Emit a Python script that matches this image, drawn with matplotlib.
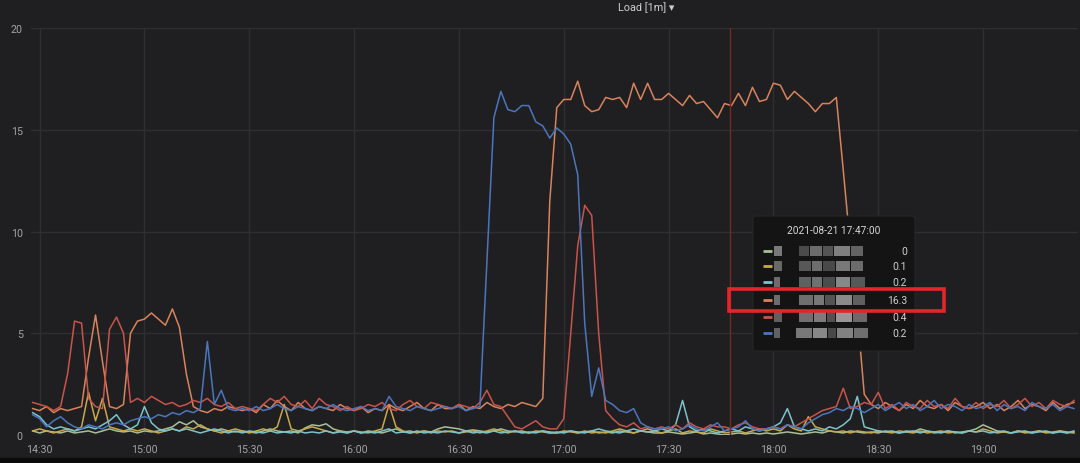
import matplotlib
matplotlib.use("Agg")
import matplotlib.pyplot as plt
import matplotlib.dates as mdates
import matplotlib.patches as mpatches
import pandas as pd

plt.rcParams['font.family'] = ['Roboto', 'DejaVu Sans']

# ---------------- data (2-minute samples, 14:28 .. 19:26) ----------------
start_time = "2021-08-21 14:28"
n_points = 150

green = [0.2, 0.1, 0.2, 0.15, 0.1, 0.2, 0.1, 0.15, 0.2, 0.1, 0.2, 0.3, 0.2, 0.15, 0.2,
         0.1, 0.2, 0.15, 0.2, 0.3, 0.4, 0.65, 0.5, 0.7, 0.4, 0.3, 0.2, 0.3, 0.2, 0.15,
         0.2, 0.15, 0.1, 0.2, 0.3, 0.2, 0.15, 0.2, 0.1, 0.35, 0.5, 0.45, 0.55, 0.3, 0.2,
         0.15, 0.2, 0.1, 0.2, 0.15, 0.1, 0.2, 0.3, 0.15, 0.2, 0.1, 0.2, 0.15, 0.3, 0.4,
         0.35, 0.3, 0.2, 0.25, 0.2, 0.15, 0.2, 0.3, 0.2, 0.15, 0.2, 0.1, 0.15, 0.2, 0.15,
         0.1, 0.15, 0.2, 0.1, 0.15, 0.2, 0.1, 0.15, 0.1, 0.2, 0.15, 0.1, 0.2, 0.15, 0.1,
         0.1, 0.15, 0.1, 0.05, 0.1, 0.15, 0.05, 0.1, 0.05, 0.0, 0.05, 0.1, 0.05, 0.1, 0.05,
         0.1, 0.05, 0.1, 0.15, 0.1, 0.05, 0.1, 0.15, 0.1, 0.2, 0.15, 0.1, 0.2, 0.15, 0.1,
         0.15, 0.1, 0.2, 0.15, 0.1, 0.2, 0.15, 0.3, 0.2, 0.1, 0.15, 0.2, 0.1, 0.15, 0.2,
         0.3, 0.5, 0.35, 0.2, 0.15, 0.1, 0.2, 0.15, 0.1, 0.2, 0.15, 0.1, 0.2, 0.15, 0.1]

yellow = [0.2, 0.3, 0.2, 0.1, 0.2, 0.3, 0.2, 0.4, 2.1, 0.7, 1.8, 0.4, 0.3, 0.2, 0.3,
          0.2, 0.3, 0.2, 0.1, 0.2, 0.3, 0.2, 0.4, 0.3, 0.5, 0.3, 0.2, 0.1, 0.2, 0.3,
          0.2, 0.1, 0.2, 0.3, 0.2, 0.4, 1.5, 0.3, 0.2, 0.3, 0.4, 0.3, 0.2, 0.1, 0.2,
          0.1, 0.2, 0.15, 0.1, 0.2, 0.3, 1.5, 0.4, 0.2, 0.1, 0.15, 0.2, 0.1, 0.2, 0.15,
          0.2, 0.1, 0.15, 0.2, 0.1, 0.2, 0.3, 0.2, 0.1, 0.2, 0.15, 0.1, 0.2, 0.15, 0.1,
          0.1, 0.2, 0.15, 0.1, 0.2, 0.1, 0.15, 0.1, 0.2, 0.3, 0.2, 0.1, 0.2, 0.3, 0.2,
          0.1, 0.2, 0.3, 0.1, 0.2, 0.15, 0.1, 0.3, 0.2, 0.1, 0.15, 0.2, 0.1, 0.2, 0.3,
          0.2, 0.3, 0.2, 0.5, 0.3, 0.2, 0.9, 0.4, 0.3, 0.2, 0.15, 0.2, 0.1, 0.2, 0.15,
          0.1, 0.2, 0.15, 0.1, 0.2, 0.15, 0.1, 0.2, 0.1, 0.15, 0.2, 0.1, 0.15, 0.1, 0.2,
          0.15, 0.3, 0.2, 0.1, 0.15, 0.1, 0.2, 0.1, 0.15, 0.2, 0.1, 0.15, 0.2, 0.1, 0.15]

cyan = [1.1, 0.9, 0.5, 0.3, 0.4, 0.3, 0.2, 0.3, 0.4, 0.3, 0.5, 0.7, 1.0, 0.5, 0.3,
        0.5, 1.4, 0.6, 0.3, 0.2, 0.3, 0.2, 0.3, 0.2, 0.1, 0.2, 0.3, 0.2, 0.1, 0.2,
        0.1, 0.2, 0.15, 0.1, 0.2, 0.1, 0.15, 0.1, 0.2, 0.1, 0.15, 0.1, 0.2, 0.1, 0.15,
        0.1, 0.2, 0.1, 0.15, 0.1, 0.2, 0.3, 0.1, 0.15, 0.1, 0.2, 0.1, 0.15, 0.1, 0.2,
        0.15, 0.1, 0.2, 0.1, 0.15, 0.1, 0.2, 0.1, 0.15, 0.2, 0.1, 0.15, 0.1, 0.2, 0.1,
        0.15, 0.1, 0.2, 0.15, 0.1, 0.2, 0.3, 0.2, 0.15, 0.1, 0.2, 0.3, 0.2, 0.15, 0.2,
        0.3, 0.2, 0.5, 1.7, 0.4, 0.2, 0.3, 0.2, 0.1, 0.2, 0.3, 0.2, 0.4, 0.3, 0.2,
        0.3, 0.4, 0.6, 1.3, 0.4, 0.3, 0.2, 0.3, 0.2, 0.4, 0.3, 0.5, 0.8, 1.9, 0.4,
        0.3, 0.2, 0.15, 0.2, 0.1, 0.15, 0.2, 0.1, 0.2, 0.15, 0.1, 0.2, 0.15, 0.1, 0.2,
        0.15, 0.2, 0.1, 0.15, 0.2, 0.1, 0.15, 0.2, 0.1, 0.15, 0.2, 0.1, 0.15, 0.1, 0.2]

orange = [1.3, 1.2, 1.4, 1.1, 1.3, 1.2, 1.3, 1.4, 3.8, 5.9, 3.6, 1.4, 1.3, 1.5, 5.0,
          5.6, 5.7, 6.0, 5.7, 5.4, 6.2, 5.3, 3.0, 1.4, 1.2, 1.1, 1.3, 1.2, 1.4, 1.3,
          1.2, 1.3, 1.1, 1.5, 1.3, 1.7, 1.4, 1.2, 1.6, 1.3, 1.2, 1.4, 1.3, 1.2, 1.5,
          1.3, 1.2, 1.4, 1.1, 1.3, 1.2, 1.5, 1.3, 1.2, 1.4, 1.6, 1.3, 1.2, 1.5, 1.3,
          1.3, 1.5, 1.2, 1.4, 1.3, 1.6, 1.4, 1.3, 1.5, 1.4, 1.6, 1.5, 1.4, 1.8, 11.5,
          16.1, 16.5, 16.5, 17.4, 16.2, 15.9, 16.0, 16.6, 16.5, 16.6, 16.1, 17.3, 16.5, 17.3, 16.5,
          16.5, 16.8, 16.5, 16.2, 16.7, 16.3, 16.4, 16.0, 15.6, 16.3, 16.2, 16.8, 16.2, 17.1, 16.4,
          16.5, 17.3, 17.2, 16.5, 16.9, 16.6, 16.3, 15.9, 16.3, 16.3, 16.6, 13.0, 9.3, 6.0, 2.0,
          1.5, 1.3, 1.6, 1.4, 1.2, 1.5, 1.3, 1.7, 1.4, 1.3, 1.5, 1.2, 1.6, 1.4, 1.3,
          1.4, 1.6, 1.3, 1.5, 1.2, 1.4, 1.7, 1.3, 1.5, 1.4, 1.2, 1.6, 1.3, 1.5, 1.6]

red = [1.6, 1.5, 1.4, 1.2, 1.4, 3.0, 5.6, 5.5, 1.8, 1.4, 1.3, 5.2, 5.8, 5.0, 1.6,
       1.8, 1.6, 1.9, 1.7, 1.5, 1.6, 1.4, 1.5, 1.7, 1.6, 1.8, 1.5, 1.4, 1.6, 1.3,
       1.4, 1.3, 1.2, 1.5, 1.8, 1.6, 1.9, 1.5, 1.4, 1.7, 1.3, 1.8, 1.5, 1.4, 1.2,
       1.4, 1.2, 1.3, 1.5, 1.4, 1.6, 1.3, 1.2, 1.5, 1.7, 1.4, 1.3, 1.6, 1.5, 1.4,
       1.3, 1.5, 1.4, 1.3, 1.6, 2.2, 1.5, 1.4, 0.9, 0.4, 0.3, 0.5, 0.7, 0.4, 0.3,
       0.3, 0.8, 5.0, 9.3, 11.3, 10.8, 5.0, 1.2, 0.8, 0.5, 0.4, 0.6, 0.3, 0.4, 0.3,
       0.4, 0.3, 0.5, 0.3, 0.6, 0.4, 0.3, 0.5, 0.4, 0.4, 0.3, 0.5, 0.6, 0.4, 0.3,
       0.3, 0.4, 0.3, 0.5, 0.4, 0.6, 0.8, 1.0, 1.2, 1.3, 1.4, 2.3, 1.3, 1.4, 1.6,
       1.5, 2.1, 1.3, 1.5, 1.2, 1.6, 1.4, 1.3, 1.7, 1.4, 1.5, 1.3, 1.8, 1.4, 1.3,
       1.6, 1.3, 1.5, 1.4, 1.7, 1.3, 1.5, 1.8, 1.4, 1.6, 1.3, 1.7, 1.5, 1.4, 1.7]

blue = [1.0, 0.8, 0.4, 0.7, 0.9, 0.6, 0.4, 0.3, 0.5, 0.4, 0.3, 0.5, 0.6, 0.5, 0.7,
        0.8, 0.9, 0.8, 1.0, 0.9, 1.1, 1.0, 1.2, 1.1, 1.3, 4.6, 1.5, 2.2, 1.3, 1.2,
        1.3, 1.2, 1.4, 1.2, 1.3, 1.5, 1.3, 1.2, 1.4, 1.3, 1.2, 1.4, 1.3, 1.5, 1.3,
        1.2, 1.3, 1.4, 1.2, 1.3, 1.2, 1.9, 1.4, 1.3, 1.2, 1.4, 1.3, 1.2, 1.3, 1.4,
        1.3, 1.4, 1.2, 1.3, 1.4, 8.5, 15.6, 16.9, 16.0, 15.9, 16.2, 16.2, 15.4, 15.2, 14.6,
        15.1, 14.8, 14.3, 12.8, 5.5, 1.9, 3.3, 1.7, 1.5, 1.2, 1.1, 1.3, 0.6, 0.4, 0.3,
        0.3, 0.4, 0.2, 0.3, 0.5, 0.3, 0.2, 0.4, 0.6, 0.2, 0.3, 0.4, 0.7, 0.3, 0.2,
        0.3, 0.4, 0.3, 0.5, 0.4, 0.3, 0.6, 0.8, 1.0, 1.1, 1.3, 1.2, 1.4, 1.3, 1.1,
        1.3, 1.5, 1.2, 1.4, 1.6, 1.3, 1.5, 1.2, 1.4, 1.7, 1.3, 1.5, 1.4, 1.2, 1.5,
        1.3, 1.4, 1.6, 1.2, 1.5, 1.3, 1.4, 1.2, 1.6, 1.4, 1.3, 1.5, 1.2, 1.4, 1.3]

series_values = [green, yellow, cyan, orange, red, blue]
series_colors = ['#a9bf98', '#c9a94c', '#7cc3cc', '#d8835c', '#c8544b', '#4b76bd']

y_ticks = [0, 5, 10, 15, 20]
panel_title = "Load [1m] \u25be"
tooltip_time = "2021-08-21 17:47:00"
tooltip_values = ["0", "0.1", "0.2", "16.3", "0.4", "0.2"]
cursor_time = "2021-08-21 17:47:30"
highlight_row = 3

# ---------------- figure ----------------
W, H = 1080, 464
BG = '#1f1f21'
GRID = '#2f2f32'
TXT = '#a3a3a3'

fig = plt.figure(figsize=(W / 100, H / 100), dpi=100, facecolor=BG)
ax = fig.add_axes([31 / W, 1 - 436 / H, (1078 - 31) / W, (436 - 29.3) / H])
ax.set_facecolor(BG)

times = pd.date_range(start_time, periods=n_points, freq='2min')
for vals, col in zip(series_values, series_colors):
    ax.plot(times, vals, color=col, lw=1.1, solid_joinstyle='round')

ax.set_ylim(0, 20)
ax.set_xlim(pd.Timestamp("2021-08-21 14:27:32"), pd.Timestamp("2021-08-21 19:27:10"))
ax.set_yticks(y_ticks)
ax.xaxis.set_major_locator(mdates.MinuteLocator(byminute=[0, 30]))
ax.xaxis.set_major_formatter(mdates.DateFormatter('%H:%M'))
ax.grid(True, color=GRID, lw=1)
ax.set_axisbelow(True)
for s in ax.spines.values():
    s.set_visible(False)
ax.tick_params(axis='both', length=0, colors=TXT, labelsize=7.7)
ax.tick_params(axis='y', pad=6)
ax.tick_params(axis='x', pad=6.5)

# hover crosshair
ax.axvline(pd.Timestamp(cursor_time), color='#7a2626', lw=1, zorder=5)

# ---------------- overlay (pixel coordinates) ----------------
ov = fig.add_axes([0, 0, 1, 1])
ov.set_xlim(0, W)
ov.set_ylim(H, 0)
ov.axis('off')
ov.patch.set_alpha(0)

fig.text(646 / W, 1 - 8 / H, panel_title, ha='center', va='center',
         color='#cfcfcf', fontsize=7.8)

# bottom dark strip
ov.add_patch(mpatches.Rectangle((0, 459), W, 5, color='#0b0b0b', zorder=1))

# tooltip box
ov.add_patch(mpatches.FancyBboxPatch((753, 217), 162, 135,
             boxstyle="round,pad=0,rounding_size=3",
             facecolor='#141414', edgecolor='#262626', lw=0.8, zorder=10))
ov.text(834, 231.5, tooltip_time, ha='center', va='center', color='#d6d6d6',
        fontsize=7.3, zorder=11)
row_y = [251.7, 267, 283, 300.7, 317.7, 334]
mosaic = [
    [(774, 8, '#9c9c9c'), (799, 10, '#5e5e5e'), (810, 12, '#8a8a8a'), (823, 10, '#6a6a6a'), (834, 16, '#a4a4a4'), (851, 12, '#7e7e7e')],
    [(774, 8, '#858585'), (799, 12, '#707070'), (812, 10, '#8c8c8c'), (823, 12, '#5c5c5c'), (836, 14, '#9a9a9a'), (851, 12, '#8a8a8a')],
    [(774, 6, '#8a8a8a'), (799, 12, '#7a7a7a'), (812, 10, '#909090'), (823, 12, '#606060'), (836, 14, '#b0b0b0'), (851, 14, '#707070')],
    [(774, 6, '#8a8a8a'), (799, 14, '#8e8e8e'), (814, 10, '#9a9a9a'), (825, 10, '#6a6a6a'), (836, 16, '#b4b4b4'), (853, 12, '#7a7a7a')],
    [(774, 8, '#7a7a7a'), (799, 14, '#909090'), (814, 12, '#a0a0a0'), (827, 8, '#666666'), (836, 16, '#c4c4c4'), (853, 14, '#888888')],
    [(774, 6, '#7c7c7c'), (796, 16, '#9a9a9a'), (813, 14, '#b0b0b0'), (828, 8, '#5a5a5a'), (837, 16, '#a8a8a8'), (854, 14, '#8e8e8e')],
]
for ry, col, val, blocks in zip(row_y, series_colors, tooltip_values, mosaic):
    ov.plot([763, 772], [ry, ry], color=col, lw=2, solid_capstyle='butt', zorder=11)
    for x0, w, g in blocks:
        ov.add_patch(mpatches.Rectangle((x0, ry - 5), w, 10, color=g, alpha=0.75, lw=0, zorder=11))
    ov.text(907, ry, val, ha='right', va='center', color='#cfcfcf', fontsize=7.5, zorder=11)

# red highlight
hy = row_y[highlight_row]
ov.add_patch(mpatches.Rectangle((729, hy - 11), 215, 22, fill=False,
             edgecolor='#e3262a', lw=2.6, zorder=12))

fig.savefig("out.png", dpi=100, facecolor=BG)
